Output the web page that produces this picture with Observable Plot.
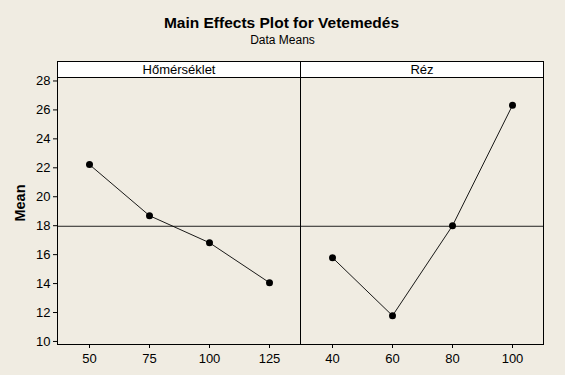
<!DOCTYPE html>
<html><head><meta charset="utf-8">
<script src="https://cdn.jsdelivr.net/npm/d3@7"></script>
<script src="https://cdn.jsdelivr.net/npm/@observablehq/plot@0.6"></script>
<style>
html,body{margin:0;padding:0;background:#f0ece2;}
#c{position:relative;width:565px;height:375px;background:#f0ece2;font-family:"Liberation Sans",Arial,sans-serif;overflow:hidden;color:#000}
.abs{position:absolute}
#title{left:0;width:563px;top:14px;text-align:center;font-weight:bold;font-size:15.5px;line-height:18px;}
#subtitle{left:0;width:565px;top:33px;text-align:center;font-size:12px;}
.strip{box-sizing:border-box;border:1px solid #000;background:#fff;height:17px;top:61px;width:244px;text-align:center;font-size:13px;line-height:15px;}
#ylab{left:20px;top:203px;transform:translate(-50%,-50%) rotate(-90deg);font-weight:bold;font-size:14.5px;white-space:nowrap}
svg{position:absolute;top:0}
</style></head><body><div id="c"></div>
<script>
const title = "Main Effects Plot for Vetemedés";
const subtitle = "Data Means";
const yLabel = "Mean";
const factors = ["Hőmérséklet", "Réz"];
const homersekletLevels = [50, 75, 100, 125];
const homersekletMeans = [22.22, 18.69, 16.82, 14.06];
const rezLevels = [40, 60, 80, 100];
const rezMeans = [15.79, 11.78, 18.00, 26.32];
const yTicks = [10, 12, 14, 16, 18, 20, 22, 24, 26, 28];

const grandMean = d3.mean([...homersekletMeans, ...rezMeans]);
const yDomain = [9.79, 28.24];
const c = document.getElementById("c");

function add(html, cls, id, left) {
  const d = document.createElement("div");
  d.className = "abs " + (cls || "");
  if (id) d.id = id;
  if (left != null) d.style.left = left + "px";
  d.textContent = html;
  c.appendChild(d);
  return d;
}
add(title, "", "title");
add(subtitle, "", "subtitle");
add(yLabel, "", "ylab");
add(factors[0], "strip", null, 57);
add(factors[1], "strip", null, 300);

const style = {background: "transparent", fontSize: "13px", fontFamily: '"Liberation Sans", Arial, sans-serif', color: "#000", overflow: "visible"};

function panel(levels, means, left, width, mL, mR, showY) {
  const data = levels.map((x, i) => ({x, y: means[i]}));
  const marks = [
    Plot.ruleY([grandMean], {stroke: "#222", strokeWidth: 1}),
    Plot.line(data, {x: "x", y: "y", stroke: "#000", strokeWidth: 0.9}),
    Plot.dot(data, {x: "x", y: "y", r: 3.5, fill: "#000", stroke: "none"}),
    Plot.frame({stroke: "#000", strokeWidth: 1}),
    Plot.axisX({tickSize: 4, tickPadding: 5, label: null, stroke: "#000"})
  ];
  if (showY) marks.push(Plot.axisY({ticks: yTicks, tickSize: 4, tickPadding: 3, label: null, stroke: "#000"}));
  const svg = Plot.plot({
    width, height: 375,
    marginLeft: mL, marginRight: mR, marginTop: 77, marginBottom: 31,
    style,
    x: {type: "point", domain: levels, padding: 0.5},
    y: {domain: yDomain, axis: showY ? undefined : null},
    marks
  });
  svg.style.left = left + "px";
  c.appendChild(svg);
}
panel(homersekletLevels, homersekletMeans, 0, 300, 57, 0, true);
panel(rezLevels, rezMeans, 300, 265, 0, 22, false);
</script>
</body></html>
